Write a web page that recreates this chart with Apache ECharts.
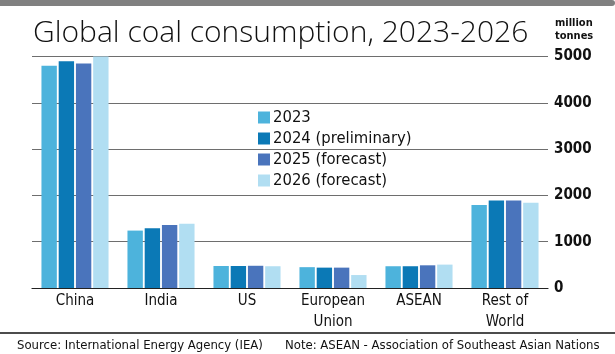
<!DOCTYPE html>
<html>
<head>
<meta charset="utf-8">
<script src="https://cdn.jsdelivr.net/npm/echarts@6/dist/echarts.min.js"></script>
<style>
  html, body { margin: 0; padding: 0; background: #fff; }
  #chart { width: 615px; height: 354px; }
</style>
</head>
<body>
<div id="chart"></div>
<script>
// data (million tonnes)
var regions = ['China', 'India', 'US', 'European\nUnion', 'ASEAN', 'Rest of\nWorld'];
var seriesNames = ['2023', '2024 (preliminary)', '2025 (forecast)', '2026 (forecast)'];
var values2023 = [4800, 1240, 475, 450, 470, 1790];
var values2024 = [4900, 1290, 475, 440, 470, 1890];
var values2025 = [4850, 1360, 480, 440, 490, 1890];
var values2026 = [5000, 1390, 470, 280, 505, 1840];
var yTicks = [0, 1000, 2000, 3000, 4000, 5000];

var colors = ['#4db3dc', '#0b79b6', '#4a74bc', '#b1def2'];
var condensed = '"DejaVu Sans Condensed", "DejaVu Sans", sans-serif';

var chart = echarts.init(document.getElementById('chart'));
var allValues = [values2023, values2024, values2025, values2026];

var option = {
    animation: false,
    backgroundColor: '#fff',
    color: colors,
    title: {
        text: 'Global coal consumption, 2023-2026',
        left: 28,
        top: 13,
        textStyle: {
            fontFamily: '"Open Sans", sans-serif',
            fontWeight: 300,
            fontSize: 30,
            color: '#111'
        }
    },
    legend: {
        orient: 'vertical',
        left: 253,
        top: 104,
        itemWidth: 12,
        itemHeight: 12,
        itemGap: 4,
        icon: 'rect',
        data: seriesNames,
        textStyle: {
            fontFamily: condensed,
            fontSize: 16.5,
            color: '#111',
            padding: [0, 0, 0, -2]
        }
    },
    grid: {
        left: 32,
        right: 67,
        top: 56.5,
        bottom: 66
    },
    xAxis: {
        type: 'category',
        data: regions,
        axisLine: { lineStyle: { color: '#222', width: 1.2 } },
        axisTick: { inside: true, length: 4, lineStyle: { color: '#222' } },
        axisLabel: {
            margin: 3,
            fontFamily: condensed,
            fontSize: 15,
            lineHeight: 21,
            color: '#111'
        }
    },
    yAxis: {
        type: 'value',
        position: 'right',
        min: 0,
        max: 5000,
        interval: 1000,
        axisLine: { show: false },
        axisTick: { show: false },
        splitLine: { lineStyle: { color: '#6e6e6e', width: 1.2 } },
        axisLabel: {
            margin: 6,
            fontFamily: condensed,
            fontWeight: 'bold',
            fontSize: 15,
            color: '#111',
            formatter: function (v) {
                return yTicks.indexOf(v) >= 0 ? String(v) : '';
            }
        }
    },
    series: seriesNames.map(function (name, i) {
        return {
            name: name,
            type: 'bar',
            data: allValues[i],
            barGap: '12%',
            barCategoryGap: '22%',
            itemStyle: { color: colors[i] }
        };
    }),
    graphic: [
        {
            // grey band along the top edge
            type: 'rect',
            shape: { x: 0, y: 0, width: 615, height: 6, r: [0, 3, 3, 0] },
            style: { fill: '#808080' }
        },
        {
            type: 'text',
            left: 555,
            top: 17,
            style: {
                text: 'million\ntonnes',
                font: 'bold 11px ' + condensed,
                lineHeight: 13,
                fill: '#111'
            }
        },
        {
            type: 'line',
            shape: { x1: 0, y1: 333, x2: 615, y2: 333 },
            style: { stroke: '#111', lineWidth: 1.5 }
        },
        {
            type: 'text',
            left: 17,
            top: 339,
            style: {
                text: 'Source: International Energy Agency (IEA)',
                font: '13px ' + condensed,
                fill: '#111'
            }
        },
        {
            type: 'text',
            left: 285,
            top: 339,
            style: {
                text: 'Note: ASEAN - Association of Southeast Asian Nations',
                font: '13px ' + condensed,
                fill: '#111'
            }
        }
    ]
};

chart.setOption(option);
</script>
</body>
</html>
